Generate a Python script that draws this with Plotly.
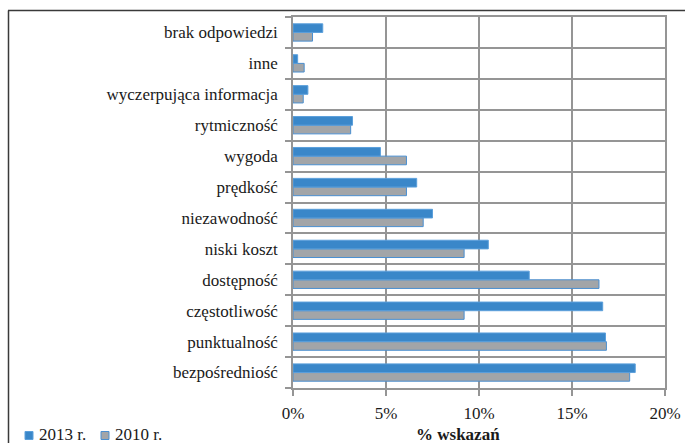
import plotly.graph_objects as go

# Categories listed bottom to top
categories = [
    "bezpośredniość", "punktualność", "częstotliwość", "dostępność",
    "niski koszt", "niezawodność", "prędkość", "wygoda",
    "rytmiczność", "wyczerpująca informacja", "inne", "brak odpowiedzi",
]
values_2013 = [18.4, 16.8, 16.65, 12.7, 10.5, 7.5, 6.65, 4.7, 3.2, 0.8, 0.25, 1.6]
values_2010 = [18.1, 16.85, 9.2, 16.45, 9.2, 7.0, 6.1, 6.1, 3.1, 0.55, 0.6, 1.05]
x_ticks = [0, 5, 10, 15, 20]
x_tick_labels = ["0%", "5%", "10%", "15%", "20%"]
series_names = ["2013 r.", "2010 r."]

FONT = "Liberation Serif"
GRID = "#959595"
TXT = "#1a1a1a"
BLUE = "#3a87c9"
BLUE_EDGE = "#5b9fdb"
GREY = "#a2a5a8"
GREY_EDGE = "#4a8fd0"

fig = go.Figure()
fig.add_trace(go.Bar(
    y=categories, x=values_2010, orientation="h", name=series_names[1],
    marker=dict(color=GREY, line=dict(color=GREY_EDGE, width=1)),
))
fig.add_trace(go.Bar(
    y=categories, x=values_2013, orientation="h", name=series_names[0],
    marker=dict(color=BLUE, line=dict(color=BLUE_EDGE, width=1)),
))

W, H = 685, 443
L, R, T, B = 293, 20, 17, 55
pw, ph = W - L - R, H - T - B

def px_x(px):
    return (px - L) / pw

def px_y(py):
    return (H - B - py) / ph

# Outer frame: top and left edges
fig.add_shape(type="line", xref="paper", yref="paper",
              x0=px_x(8), x1=px_x(700), y0=px_y(10.5), y1=px_y(10.5),
              line=dict(color="#3a3a3a", width=1.5))
fig.add_shape(type="line", xref="paper", yref="paper",
              x0=px_x(8.5), x1=px_x(8.5), y0=px_y(10.5), y1=px_y(460),
              line=dict(color="#3a3a3a", width=1.5))

# Axis title
fig.add_annotation(x=px_x(458), xref="paper", y=px_y(435), yref="paper",
                   text="<b>% wskazań</b>", showarrow=False,
                   xanchor="center", yanchor="middle",
                   font=dict(family=FONT, size=17, color=TXT))

# Legend: swatch + label per series
legend_items = [(series_names[0], BLUE, BLUE_EDGE, 25), (series_names[1], GREY, GREY_EDGE, 101)]
for name, fill, edge, x0 in legend_items:
    fig.add_shape(type="rect", xref="paper", yref="paper",
                  x0=px_x(x0), x1=px_x(x0 + 8), y0=px_y(439.5), y1=px_y(431.5),
                  fillcolor=fill, line=dict(color=edge, width=1))
    fig.add_annotation(x=px_x(x0 + 12), xref="paper", y=px_y(435), yref="paper",
                       text=name, showarrow=False, xanchor="left", yanchor="middle",
                       font=dict(family=FONT, size=17, color=TXT))

fig.update_layout(
    template="none",
    width=W, height=H,
    margin=dict(l=L, r=R, t=T, b=B, pad=0, autoexpand=False),
    paper_bgcolor="white", plot_bgcolor="white",
    barmode="group", bargap=0.44, bargroupgap=0,
    font=dict(family=FONT, size=17, color=TXT),
    showlegend=False,
    xaxis=dict(
        range=[0, 20], tickvals=x_ticks, ticktext=x_tick_labels,
        showgrid=True, gridcolor=GRID, gridwidth=1.5,
        showline=True, linecolor=GRID, linewidth=1.5, mirror=True,
        ticks="outside", ticklen=6, tickcolor=GRID, tickwidth=1.5,
        zeroline=False, automargin=False, ticklabelstandoff=3,
        tickfont=dict(family=FONT, size=17, color=TXT),
    ),
    yaxis=dict(
        type="category", categoryorder="array", categoryarray=categories,
        tickson="boundaries", showgrid=True, gridcolor=GRID, gridwidth=1.5,
        showline=True, linecolor=GRID, linewidth=1.5, mirror=True,
        ticks="outside", ticklen=6, tickcolor=GRID, tickwidth=1.5,
        automargin=False, ticklabelstandoff=10,
        tickfont=dict(family=FONT, size=17, color=TXT),
    ),
)

fig.write_html("out.html")
